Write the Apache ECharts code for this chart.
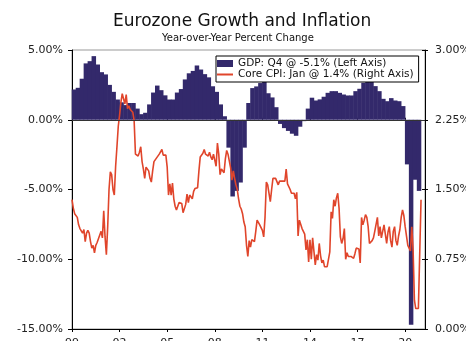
<!DOCTYPE html>
<html>
<head>
<meta charset="utf-8">
<script src="https://cdn.jsdelivr.net/npm/echarts@6/dist/echarts.min.js"></script>
<style>html,body{margin:0;padding:0;background:#fff;}#c{width:466px;height:341px;}</style>
</head>
<body>
<div id="c"></div>
<script>
// ---- DATA ----
const titleText = 'Eurozone Growth and Inflation';
const subtitleText = 'Year-over-Year Percent Change';
const gdpName = 'GDP: Q4 @ -5.1% (Left Axis)';
const cpiName = 'Core CPI: Jan @ 1.4% (Right Axis)';

// Quarterly GDP YoY %, 1999 Q1 .. 2020 Q4
const gdpStartYear = 1999;
const gdpValues = [
  2.17, 2.29, 2.94, 4.04,
  4.20, 4.56, 3.96, 3.41,
  3.25, 2.50, 2.00, 1.45,
  1.25, 1.05, 1.20, 1.20,
  0.80, 0.40, 0.50, 1.10,
  1.95, 2.45, 2.12, 1.75,
  1.45, 1.45, 1.95, 2.20,
  2.89, 3.33, 3.50, 3.89,
  3.60, 3.27, 3.04, 2.40,
  2.00, 1.10, 0.25, -2.00,
  -5.50, -5.10, -4.50, -2.00,
  1.20, 2.27, 2.39, 2.63,
  2.94, 1.90, 1.60, 0.90,
  -0.30, -0.60, -0.80, -1.00,
  -1.15, -0.50, -0.10, 0.80,
  1.58, 1.38, 1.46, 1.65,
  1.93, 2.05, 2.05, 1.93,
  1.81, 1.74, 1.74, 2.05,
  2.22, 2.65, 2.94, 2.89,
  2.41, 2.05, 1.50, 1.33,
  1.55, 1.38, 1.33, 0.98,
  -3.20, -14.70, -4.30, -5.10
];

// Monthly core CPI YoY %, Jan 1999 .. Jan 2021
const cpiStartYear = 1999;
const cpiValues = [
  1.39, 1.30, 1.24, 1.23, 1.20, 1.12, 1.08, 1.10, 1.03, 1.07, 0.94, 1.03,
  1.06, 1.03, 0.94, 0.87, 0.90, 0.82, 0.90, 0.93, 0.97, 0.99, 1.05, 0.98,
  1.27, 0.99, 0.80, 1.10, 1.50, 1.69, 1.66, 1.50, 1.44, 1.75, 1.96, 2.18,
  2.30, 2.44, 2.53, 2.55, 2.42, 2.52, 2.37, 2.40, 2.36, 2.34, 2.33, 2.24,
  1.88, 1.87, 1.86, 1.90, 1.96, 1.80, 1.72, 1.62, 1.74, 1.76, 1.70, 1.62,
  1.58, 1.70, 1.80, 1.79, 1.84, 1.82, 1.88, 1.87, 1.93, 1.87, 1.85, 1.87,
  1.74, 1.44, 1.56, 1.44, 1.57, 1.40, 1.32, 1.28, 1.29, 1.36, 1.37, 1.35,
  1.25, 1.27, 1.34, 1.45, 1.36, 1.44, 1.42, 1.40, 1.48, 1.51, 1.52, 1.52,
  1.70, 1.85, 1.86, 1.89, 1.93, 1.88, 1.90, 1.86, 1.90, 1.85, 1.82, 1.88,
  1.86, 1.75, 2.00, 1.88, 1.66, 1.72, 1.70, 1.68, 1.83, 1.92, 1.88, 1.86,
  1.73, 1.60, 1.70, 1.62, 1.55, 1.50, 1.40, 1.32, 1.29, 1.24, 1.15, 1.10,
  0.90, 0.78, 0.95, 0.88, 0.96, 0.97, 0.94, 1.05, 1.17, 1.16, 1.12, 1.12,
  1.06, 0.99, 1.20, 1.58, 1.55, 1.56, 1.37, 1.50, 1.62, 1.61, 1.62, 1.61,
  1.55, 1.59, 1.58, 1.59, 1.58, 1.59, 1.72, 1.56, 1.54, 1.50, 1.46, 1.48,
  1.46, 1.40, 1.47, 1.00, 1.17, 1.17, 1.08, 1.08, 1.02, 0.85, 0.96, 0.72,
  0.96, 0.75, 0.98, 0.99, 0.69, 0.80, 0.74, 0.92, 0.79, 0.71, 0.74, 0.67,
  0.65, 0.67, 0.65, 0.83, 1.26, 1.19, 1.39, 1.32, 1.41, 1.46, 1.30, 0.99,
  0.92, 0.97, 1.08, 0.75, 0.82, 0.78, 0.79, 0.78, 0.80, 0.76, 0.81, 0.87,
  0.85, 0.86, 0.71, 1.20, 1.12, 1.17, 1.23, 1.20, 1.10, 0.92, 0.93, 0.95,
  0.98, 1.05, 1.05, 1.20, 1.00, 1.10, 0.98, 1.00, 1.12, 1.02, 0.92, 1.04,
  1.10, 0.95, 0.88, 1.05, 1.10, 0.95, 0.90, 1.00, 1.07, 1.20, 1.28, 1.22,
  1.10, 1.10, 0.90, 0.87, 0.84, 1.10, 0.85, 0.31, 0.22, 0.23, 0.22, 0.23,
  1.39
];

const xMin = 1999, xMax = 2021.25, xStep = 3;
const leftMin = -15, leftMax = 5, leftStep = 5;
const rightMin = 0, rightMax = 3, rightStep = 0.75;

// ---- CHART ----
const gdpData = gdpValues.map((v, i) => [gdpStartYear + i / 4 + 0.125, v]);
const cpiData = cpiValues.map((v, i) => [cpiStartYear + i / 12, v]);

const FONT = 'DejaVu Sans';
const chart = echarts.init(document.getElementById('c'), null, {renderer: 'canvas'});
const pct = v => v.toFixed(2) + '%';

chart.setOption({
  animation: false,
  backgroundColor: '#fff',
  textStyle: {fontFamily: FONT},
  title: [
    {text: titleText, left: 113, top: 13, padding: 0,
     textStyle: {fontFamily: FONT, fontSize: 17, fontWeight: 'normal', color: '#111'}},
    {text: subtitleText, left: 162, top: 33, padding: 0,
     textStyle: {fontFamily: FONT, fontSize: 10, fontWeight: 'normal', color: '#111'}}
  ],
  legend: {
    orient: 'vertical', left: 216, top: 56,
    padding: [2, 5, 2, 1], itemGap: 0, itemWidth: 16, itemHeight: 7,
    symbolKeepAspect: true,
    borderColor: '#000', borderWidth: 1, borderRadius: 0, backgroundColor: '#fff',
    textStyle: {fontFamily: FONT, fontSize: 10.5, color: '#111', lineHeight: 11},
    data: [
      {name: gdpName, icon: 'rect'},
      {name: cpiName, icon: 'path://M0,0 L16,0 L16,2 L0,2 Z'}
    ]
  },
  grid: {left: 72, right: 41, top: 50, bottom: 12, show: true, borderColor: '#999', borderWidth: 1,
         containLabel: false, outerBoundsMode: 'none'},
  xAxis: [
    {type: 'value', min: xMin, max: xMax, interval: xStep, position: 'bottom',
     axisLine: {show: true, onZero: false, lineStyle: {color: '#000', width: 1}},
     axisTick: {show: true, length: 3, lineStyle: {color: '#000'}},
     splitLine: {show: false},
     axisLabel: {fontFamily: FONT, fontSize: 11, color: '#222', margin: 9, showMaxLabel: false,
       formatter: v => { const y = Math.round(v); if (Math.abs(v - y) > 1e-6) return ''; return String(y % 100).padStart(2, '0'); }}},
    {type: 'value', min: xMin, max: xMax, interval: xStep, position: 'bottom',
     axisLine: {show: false}, axisTick: {show: true, inside: true, length: 2, lineStyle: {color: '#000'}},
     splitLine: {show: false}, axisLabel: {show: false}}
  ],
  yAxis: [
    {type: 'value', min: leftMin, max: leftMax, interval: leftStep, position: 'left',
     axisLine: {show: true, onZero: false, lineStyle: {color: '#000', width: 1}},
     axisTick: {show: true, length: 4, lineStyle: {color: '#000'}},
     splitLine: {show: false},
     axisLabel: {fontFamily: FONT, fontSize: 11, color: '#222', margin: 9, formatter: pct}},
    {type: 'value', min: rightMin, max: rightMax, interval: rightStep, position: 'right',
     axisLine: {show: true, onZero: false, lineStyle: {color: '#000', width: 1}},
     axisTick: {show: true, length: 3, lineStyle: {color: '#000'}},
     splitLine: {show: false},
     axisLabel: {fontFamily: FONT, fontSize: 11, color: '#222', margin: 10, formatter: pct}},
    {type: 'value', min: rightMin, max: rightMax, interval: rightStep, position: 'right',
     axisLine: {show: false}, axisTick: {show: true, inside: true, length: 3, lineStyle: {color: '#000'}},
     splitLine: {show: false}, axisLabel: {show: false}}
  ],
  series: [
    {name: gdpName, type: 'bar', xAxisIndex: 0, yAxisIndex: 0, data: gdpData,
     barWidth: 4.5, z: 2, itemStyle: {color: '#33296b'},
     markLine: {silent: true, symbol: 'none', label: {show: false},
       lineStyle: {color: '#333', type: 'solid', width: 1}, data: [{yAxis: 0}]}},
    {name: cpiName, type: 'line', xAxisIndex: 0, yAxisIndex: 1, data: cpiData,
     symbol: 'none', showSymbol: false, z: 4,
     lineStyle: {color: '#e0452b', width: 1.6}, itemStyle: {color: '#e0452b'}}
  ]
});
</script>
</body>
</html>
